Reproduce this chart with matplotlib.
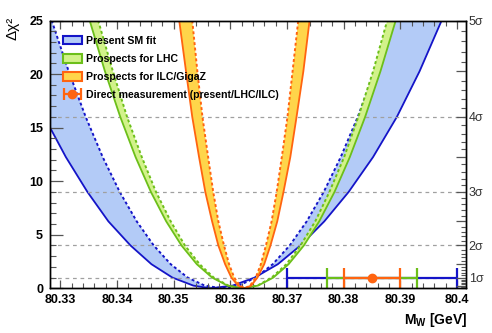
import matplotlib
matplotlib.use('Agg')
import matplotlib.pyplot as plt
from matplotlib.patches import Patch
from matplotlib.ticker import FixedLocator, MultipleLocator
from matplotlib.legend_handler import HandlerErrorbar

plt.rcParams['font.family'] = ['Liberation Sans', 'DejaVu Sans']
plt.rcParams['mathtext.fontset'] = 'custom'
plt.rcParams['mathtext.rm'] = 'Liberation Sans'
plt.rcParams['mathtext.bf'] = 'Liberation Sans:bold'
plt.rcParams['mathtext.it'] = 'Liberation Sans:italic'

# ---------------- data ----------------
chi2_levels = [25, 20.25, 16, 12.25, 9, 6.25, 4, 2.25, 1, 0.25, 0,
               0.25, 1, 2.25, 4, 6.25, 9, 12.25, 16, 20.25, 25]

sm_fit_solid_x = [80.3197, 80.3235, 80.3272, 80.3310, 80.3348, 80.3385, 80.3424,
                  80.3461, 80.3498, 80.3535, 80.3565, 80.3604, 80.3643, 80.3684,
                  80.3724, 80.3766, 80.3809, 80.3852, 80.3894, 80.3934, 80.3973]
sm_fit_dashed_x = [80.3285, 80.3315, 80.3345, 80.3375, 80.3405, 80.3435, 80.3465,
                   80.3495, 80.3525, 80.3555, 80.3585, 80.3615, 80.3645, 80.3675,
                   80.3705, 80.3735, 80.3765, 80.3795, 80.3825, 80.3855, 80.3885]

lhc_solid_x = [80.3352, 80.3379, 80.3406, 80.3433, 80.3460, 80.3487, 80.3514,
               80.3541, 80.3568, 80.3595, 80.3622, 80.3649, 80.3676, 80.3703,
               80.3730, 80.3757, 80.3784, 80.3811, 80.3838, 80.3865, 80.3892]
lhc_dashed_x = [80.3367, 80.3393, 80.3418, 80.3444, 80.3469, 80.3495, 80.3520,
                80.3546, 80.3571, 80.3597, 80.3622, 80.3648, 80.3673, 80.3699,
                80.3724, 80.3750, 80.3775, 80.3801, 80.3826, 80.3852, 80.3877]

ilc_solid_x = [80.3510, 80.3522, 80.3533, 80.3545, 80.3556, 80.3568, 80.3579,
               80.3591, 80.3602, 80.3614, 80.3625, 80.3637, 80.3648, 80.3660,
               80.3671, 80.3683, 80.3694, 80.3706, 80.3717, 80.3729, 80.3740]
ilc_dashed_x = [80.3533, 80.3542, 80.3551, 80.3561, 80.3570, 80.3579, 80.3589,
                80.3598, 80.3607, 80.3617, 80.3626, 80.3635, 80.3645, 80.3654,
                80.3663, 80.3673, 80.3682, 80.3691, 80.3701, 80.3710, 80.3720]

mw_direct = 80.385
mw_direct_errors = [0.015, 0.008, 0.005]   # present / LHC / ILC
mw_direct_level = 1

sigma_levels = [1, 2, 3, 4, 5]
x_ticks = [80.33, 80.34, 80.35, 80.36, 80.37, 80.38, 80.39, 80.40]
x_tick_labels = ['80.33', '80.34', '80.35', '80.36', '80.37', '80.38', '80.39', '80.4']
y_ticks = [0, 5, 10, 15, 20, 25]

legend_labels = ['Present SM fit', 'Prospects for LHC',
                 'Prospects for ILC/GigaZ', 'Direct measurement (present/LHC/ILC)']

# ---------------- style ----------------
blue_line, blue_fill = '#1414c8', '#b3cbf7'
green_line, green_fill = '#6cbf1a', '#d2f28a'
orange_line, yellow_fill = '#ff6410', '#ffd54a'
dash_style = (0, (1.5, 1.3))

fig = plt.figure(figsize=(4.92, 3.33), dpi=100)
ax = fig.add_axes([50/492, 1-288.3/333, 416/492, 267.8/333])
ax.set_xlim(80.3282, 80.4016)
ax.set_ylim(0, 25)

# gray sigma lines
for s in sigma_levels[:-1]:
    ax.axhline(s**2, color='#a0a0a0', lw=0.9, ls=(0, (3, 3)), zorder=1.5)

def band(xs_solid, xs_dashed, line_c, fill_c, z):
    poly_x = list(xs_solid) + list(xs_dashed)[::-1]
    poly_y = list(chi2_levels) + list(chi2_levels)[::-1]
    ax.fill(poly_x, poly_y, color=fill_c, lw=0, zorder=z)
    ax.plot(xs_solid, chi2_levels, color=line_c, lw=1.3, zorder=z + 0.2,
            solid_joinstyle='round')
    ax.plot(xs_dashed, chi2_levels, color=line_c, lw=1.4, ls=dash_style, zorder=z + 0.2)

band(sm_fit_solid_x, sm_fit_dashed_x, blue_line, blue_fill, 1)
band(lhc_solid_x, lhc_dashed_x, green_line, green_fill, 2)
band(ilc_solid_x, ilc_dashed_x, orange_line, yellow_fill, 3)

# direct measurements
eb_colors = [blue_line, green_line, orange_line]
for err, c in zip(mw_direct_errors, eb_colors):
    ax.errorbar([mw_direct], [mw_direct_level], xerr=[err], fmt='none',
                ecolor=c, elinewidth=1.6, capsize=7, capthick=1.6, zorder=6)
ax.plot([mw_direct], [mw_direct_level], 'o', color=orange_line, ms=6, zorder=7)

# legend-only handle for the direct measurement (no visible data)
leg_eb = ax.errorbar([float('nan')], [float('nan')], xerr=[mw_direct_errors[2]], fmt='o',
                     color=orange_line, ms=6, elinewidth=1.6, capsize=4, capthick=1.6)

# axes ticks
ax.set_xticks(x_ticks)
ax.set_xticklabels(x_tick_labels, fontsize=9, fontweight='bold')
ax.xaxis.set_minor_locator(MultipleLocator(0.002))
ax.set_yticks(y_ticks)
ax.set_yticklabels([str(v) for v in y_ticks], fontsize=9, fontweight='bold')
ax.yaxis.set_minor_locator(MultipleLocator(1))
ax.tick_params(axis='x', which='major', direction='in', length=6, width=0.9,
               color='#555555', top=True, pad=4)
ax.tick_params(axis='x', which='minor', direction='in', length=3.5, width=0.8,
               color='#555555', top=True)
ax.tick_params(axis='y', which='major', direction='in', length=9, width=0.9,
               color='#555555', right=False, pad=5)
ax.tick_params(axis='y', which='minor', direction='in', length=4.5, width=0.8,
               color='#555555', right=False)

ax2 = ax.twinx()
ax2.set_ylim(0, 25)
half_sig = [(k * 0.5)**2 for k in range(1, 11)]
ax2.yaxis.set_major_locator(FixedLocator(half_sig))
ax2.set_yticklabels([f'{int(k*0.5)}\u03c3' if k % 2 == 0 else '' for k in range(1, 11)],
                    fontsize=9, color='#333333')
ax2.yaxis.set_minor_locator(FixedLocator([(k * 0.1)**2 for k in range(1, 51) if k % 5]))
ax2.tick_params(axis='y', which='major', direction='in', length=7, width=0.9,
                color='#555555', pad=2)
ax2.tick_params(axis='y', which='minor', direction='in', length=3.5, width=0.8,
                color='#555555')

for a in (ax, ax2):
    for sp in a.spines.values():
        sp.set_linewidth(1.0)
        sp.set_color('black')
        sp.set_zorder(10)

# labels
fig.text(13/492, 1-17/333, '\u0394\u03c7\u00b2', rotation=90, ha='center', va='top',
         fontsize=11)
fig.text(467/492, 1-320/333, r'$\mathbf{M_{W}}$ [GeV]', ha='right', va='center',
         fontsize=10, fontweight='bold')

# legend
handles = [Patch(facecolor=blue_fill, edgecolor=blue_line, lw=1.5),
           Patch(facecolor=green_fill, edgecolor=green_line, lw=1.5),
           Patch(facecolor=yellow_fill, edgecolor=orange_line, lw=1.5),
           leg_eb]
leg = ax.legend(handles, legend_labels, loc='upper left', bbox_to_anchor=(0.018, 0.963),
                frameon=False, borderpad=0, handlelength=1.8, handleheight=0.9,
                handletextpad=0.38, labelspacing=0.77,
                prop={'size': 7.6, 'weight': 'bold'},
                handler_map={type(leg_eb): HandlerErrorbar(xerr_size=0.8)})
leg.set_zorder(12)

fig.savefig('out.png', dpi=100)
